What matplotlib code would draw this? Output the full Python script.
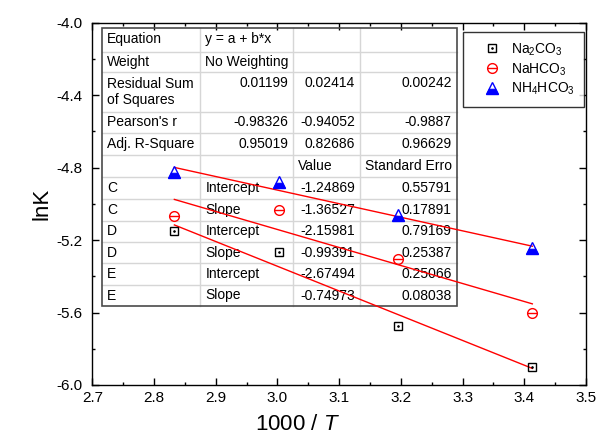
import numpy as np
import matplotlib
matplotlib.use('Agg')
import matplotlib.pyplot as plt
from matplotlib.lines import Line2D
from matplotlib.path import Path
from matplotlib.patches import Rectangle
from matplotlib.ticker import MultipleLocator, FormatStrFormatter

plt.rcParams['font.family'] = ['Liberation Sans', 'DejaVu Sans']
plt.rcParams['mathtext.fontset'] = 'custom'
plt.rcParams['mathtext.rm'] = 'Liberation Sans'
plt.rcParams['mathtext.it'] = 'Liberation Sans:italic'
plt.rcParams['mathtext.default'] = 'regular'

# ---------------- data ----------------
inv_T = [2.833, 3.003, 3.195, 3.413]
na2co3 = [-5.150, -5.264, -5.674, -5.899]
nahco3 = [-5.065, -5.034, -5.304, -5.604]
nh4hco3 = [-4.822, -4.881, -5.062, -5.245]
series_labels = ['Na$_2$CO$_3$', 'NaHCO$_3$', 'NH$_4$HCO$_3$']
fit_intercepts = [-1.24869, -2.15981, -2.67494]
fit_slopes = [-1.36527, -0.99391, -0.74973]

x_ticks = [2.7, 2.8, 2.9, 3.0, 3.1, 3.2, 3.3, 3.4, 3.5]
y_ticks = [-6.0, -5.6, -5.2, -4.8, -4.4, -4.0]

table_col1 = ['Equation', 'Weight', 'Residual Sum\nof Squares', "Pearson's r",
              'Adj. R-Square', '', 'C', 'C', 'D', 'D', 'E', 'E']
table_col2 = ['y = a + b*x', 'No Weighting', '0.01199', '-0.98326', '0.95019', '',
              'Intercept', 'Slope', 'Intercept', 'Slope', 'Intercept', 'Slope']
table_col3 = ['', '', '0.02414', '-0.94052', '0.82686', 'Value',
              '-1.24869', '-1.36527', '-2.15981', '-0.99391', '-2.67494', '-0.74973']
table_col4 = ['', '', '0.00242', '-0.9887', '0.96629', 'Standard Erro',
              '0.55791', '0.17891', '0.79169', '0.25387', '0.25066', '0.08038']

# ---------------- layout ----------------
W, H = 598, 442
X0, X1, Y0, Y1 = 92.3, 586.0, 22.7, 385.0   # axes box in pixels (top=Y0)

fig = plt.figure(figsize=(W / 100, H / 100), dpi=100)
ax = fig.add_axes([X0 / W, 1 - Y1 / H, (X1 - X0) / W, (Y1 - Y0) / H])


def fx(px):
    return (px - X0) / (X1 - X0)


def fy(py):
    return (Y1 - py) / (Y1 - Y0)


# ---------------- table (drawn in axes fraction) ----------------
col_px = [102.3, 200.3, 293.3, 360.0, 456.7]
row_px = [28.3, 51.7, 72.3, 111.7, 133.3, 155.0, 177.0, 199.3, 220.7,
          242.3, 263.3, 285.0, 306.0]
tkw = dict(transform=ax.transAxes, fontsize=10, zorder=2, color='black')
ax.add_patch(Rectangle((fx(col_px[0]), fy(row_px[-1])),
                       fx(col_px[-1]) - fx(col_px[0]), fy(row_px[0]) - fy(row_px[-1]),
                       transform=ax.transAxes, facecolor='white', edgecolor='none', zorder=1))
for cx in col_px[1:-1]:
    ax.plot([fx(cx), fx(cx)], [fy(row_px[0]), fy(row_px[-1])], transform=ax.transAxes,
            color='#d6d6d6', lw=1.0, zorder=1.5)
for ry in row_px[1:-1]:
    ax.plot([fx(col_px[0]), fx(col_px[-1])], [fy(ry), fy(ry)], transform=ax.transAxes,
            color='#d6d6d6', lw=1.0, zorder=1.5)
ax.add_patch(Rectangle((fx(col_px[0]), fy(row_px[-1])),
                       fx(col_px[-1]) - fx(col_px[0]), fy(row_px[0]) - fy(row_px[-1]),
                       transform=ax.transAxes, facecolor='none', edgecolor='#4a4a4a',
                       lw=1.2, zorder=1.6))


def is_num(s):
    try:
        float(s)
        return True
    except ValueError:
        return False


cols = [table_col1, table_col2, table_col3, table_col4]
pad = 5
for r in range(len(table_col1)):
    top, bot = row_px[r], row_px[r + 1]
    for c, col in enumerate(cols):
        s = col[r]
        if not s:
            continue
        if '\n' in s:
            yc = (top + bot) / 2
        else:
            yc = top + 10.5
        if is_num(s):
            ax.text(fx(col_px[c + 1] - pad), fy(yc), s, ha='right', va='center', **tkw)
        else:
            ax.text(fx(col_px[c] + pad), fy(yc), s, ha='left', va='center',
                    linespacing=1.15, **tkw)

# ---------------- fits ----------------
xs = np.array([min(inv_T), max(inv_T)])
for a, b in zip(fit_intercepts, fit_slopes):
    ax.plot(xs, a + b * xs, color='red', lw=1.0, zorder=3)

# ---------------- markers ----------------
trap = Path([(-1, -1), (1, -1), (0.55, -0.1), (-0.55, -0.1), (-1, -1)],
            [Path.MOVETO, Path.LINETO, Path.LINETO, Path.LINETO, Path.CLOSEPOLY])

sq_kw = dict(ls='none', marker='s', ms=6, mfc='none', mec='black', mew=1.0)
sqd_kw = dict(ls='none', marker='o', ms=1.3, mfc='black', mec='black', mew=0.5)
ci_kw = dict(ls='none', marker='o', ms=7, mfc='none', mec='red', mew=1.0)
cil_kw = dict(ls='none', marker='_', ms=7, mec='red', mew=1.0)
tr_kw = dict(ls='none', marker='^', ms=8.5, mfc='none', mec='blue', mew=1.0)
trf_kw = dict(ls='none', marker=trap, ms=8.5, mfc='blue', mec='blue', mew=0.5)

ax.plot(inv_T, na2co3, zorder=4, **sq_kw)
ax.plot(inv_T, na2co3, zorder=4, **sqd_kw)
ax.plot(inv_T, nahco3, zorder=4, **ci_kw)
ax.plot(inv_T, nahco3, zorder=4, **cil_kw)
ax.plot(inv_T, nh4hco3, zorder=4, **tr_kw)
ax.plot(inv_T, nh4hco3, zorder=4, **trf_kw)

handles = [(Line2D([], [], **sq_kw), Line2D([], [], **sqd_kw)),
           (Line2D([], [], **ci_kw), Line2D([], [], **cil_kw)),
           (Line2D([], [], **tr_kw), Line2D([], [], **trf_kw))]
leg = ax.legend(handles, series_labels, loc='upper left',
                bbox_to_anchor=(fx(463.3), fy(32.3)), borderaxespad=0,
                fontsize=10, frameon=True, fancybox=False, edgecolor='black',
                borderpad=0.65, handlelength=2.88, handletextpad=-0.07,
                labelspacing=0.25, numpoints=1)
leg.get_frame().set_linewidth(1.0)
leg.set_zorder(5)

# ---------------- axes ----------------
ax.set_xlim(2.7, 3.5)
ax.set_ylim(-6.0, -4.0)
ax.set_xticks(x_ticks)
ax.set_yticks(y_ticks)
ax.xaxis.set_minor_locator(MultipleLocator(0.05))
ax.yaxis.set_minor_locator(MultipleLocator(0.2))
ax.xaxis.set_major_formatter(FormatStrFormatter('%.1f'))
ax.yaxis.set_major_formatter(FormatStrFormatter('%.1f'))
ax.tick_params(which='both', direction='in', top=True, right=True, width=1.0,
               labelsize=11, colors='black')
ax.tick_params(which='major', length=5)
ax.tick_params(which='minor', length=2.5)
ax.tick_params(axis='x', pad=4)
ax.tick_params(axis='y', pad=7)
for sp in ax.spines.values():
    sp.set_linewidth(1.0)

ax.set_xlabel('1000 / $\\mathit{T}$', fontsize=16)
ax.xaxis.label.set_va('center')
ax.xaxis.set_label_coords(fx(297), fy(424))
ax.set_ylabel('lnK', fontsize=16)
ax.yaxis.label.set_va('center')
ax.yaxis.set_label_coords(fx(42), fy(204))

fig.savefig('out.png', dpi=100)
